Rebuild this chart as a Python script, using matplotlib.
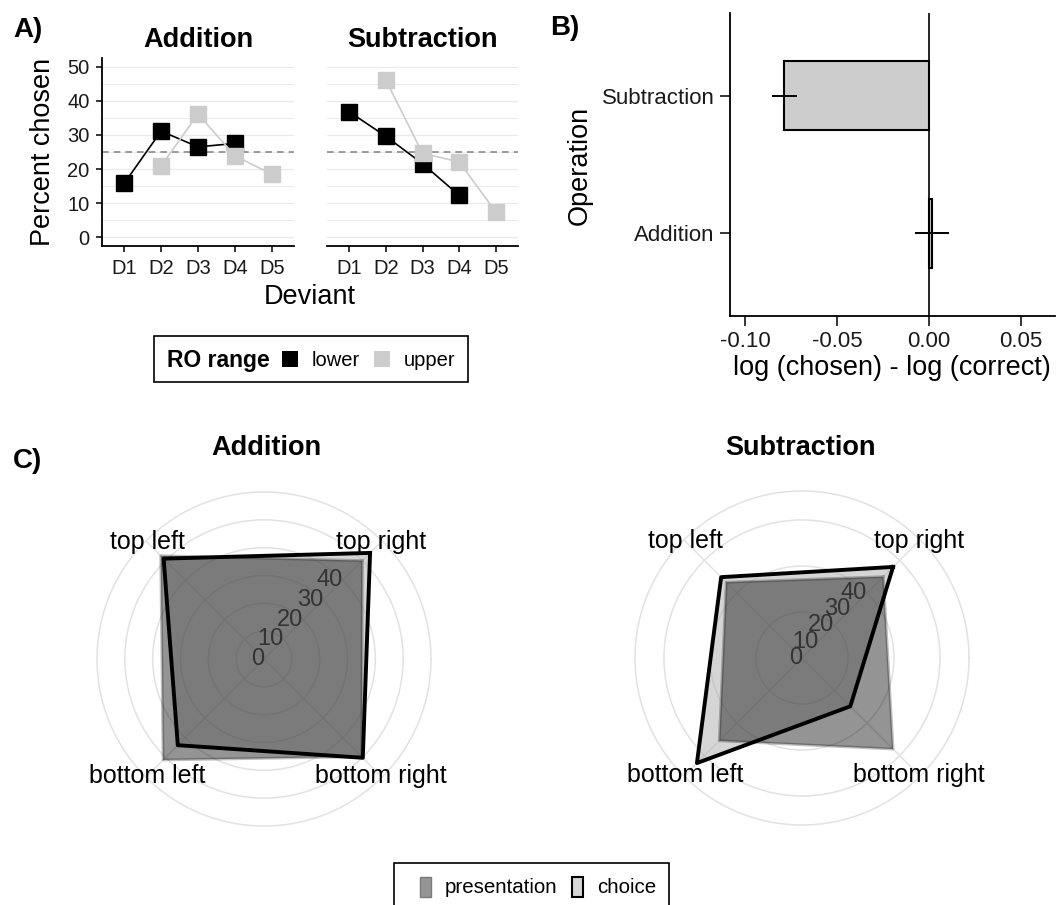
import numpy as np
import matplotlib
matplotlib.use("Agg")
from matplotlib import pyplot as plt
from matplotlib.patches import Rectangle

plt.rcParams['font.family'] = ['Liberation Sans', 'DejaVu Sans']

# ---- data ----
deviants = ['D1', 'D2', 'D3', 'D4', 'D5']
add_lower = [15.8, 31.1, 26.5, 27.5, np.nan]
add_upper = [np.nan, 20.9, 36.1, 23.9, 18.5]
sub_lower = [36.8, 29.6, 21.6, 12.3, np.nan]
sub_upper = [np.nan, 46.1, 24.6, 22.1, 7.4]
chance = 25

operations = ['Addition', 'Subtraction']
log_diff = [0.0018, -0.0786]
log_diff_err = [0.0093, 0.0070]

positions = ['top right', 'top left', 'bottom left', 'bottom right']
position_angles = [45, 135, 225, 315]
add_presentation = [50.0, 52.5, 51.3, 49.7]
add_choice = [53.9, 51.0, 43.8, 50.2]
sub_presentation = [50.0, 46.6, 50.9, 56.0]
sub_choice = [56.0, 49.7, 64.6, 29.7]
radial_labels = [0, 10, 20, 30, 40]

W, H = 1057, 905
fig = plt.figure(figsize=(W / 100, H / 100), dpi=100)


def px_axes(left, top, right, bottom, **kw):
    return fig.add_axes([left / W, 1 - bottom / H, (right - left) / W, (bottom - top) / H], **kw)


def px_text(x, y, s, **kw):
    return fig.text(x / W, 1 - y / H, s, **kw)


def px_rect(left, top, right, bottom, **kw):
    r = Rectangle((left / W, 1 - bottom / H), (right - left) / W, (bottom - top) / H,
                  transform=fig.transFigure, **kw)
    fig.patches.append(r)


LOWER = 'black'
UPPER = '#cccccc'
TXT = '#1a1a1a'

# ---- panel A ----
def line_panel(ax, lower, upper, title, left_axis):
    x = np.arange(len(deviants))
    for v in np.arange(0, 55, 5):
        ax.axhline(v, color='#ebebeb', lw=1.0 if v % 10 == 0 else 0.7, zorder=0)
    ax.axhline(chance, color='#8a8a8a', lw=1.2, ls=(0, (4, 3)), zorder=1)
    ax.plot(x, lower, color=LOWER, marker='s', ms=12, lw=1.2, zorder=3)
    ax.plot(x, upper, color=UPPER, marker='s', ms=12, lw=1.2, zorder=4)
    ax.set_xlim(-0.6, 4.6)
    ax.set_ylim(-2.5, 52.5)
    ax.set_xticks(x)
    ax.set_xticklabels(deviants, fontsize=14.5, color=TXT)
    for s in ['top', 'right']:
        ax.spines[s].set_visible(False)
    ax.spines['bottom'].set_linewidth(1.3)
    ax.tick_params(axis='x', length=4, width=1.1, pad=5)
    if left_axis:
        ax.spines['left'].set_linewidth(1.3)
        ax.set_yticks(range(0, 51, 10))
        ax.set_yticklabels([str(v) for v in range(0, 51, 10)], fontsize=14.5, color=TXT)
        ax.tick_params(axis='y', length=4, width=1.1, pad=5)
    else:
        ax.spines['left'].set_visible(False)
        ax.set_yticks([])
    ax.set_title(title, fontsize=19.5, fontweight='bold', pad=8)


axA1 = px_axes(102, 58, 294, 246)
axA2 = px_axes(327, 58, 518, 246)
line_panel(axA1, add_lower, add_upper, 'Addition', True)
line_panel(axA2, sub_lower, sub_upper, 'Subtraction', False)

px_text(43, 152, 'Percent chosen', fontsize=19.5, rotation=90, ha='center', va='center')
px_text(310, 297, 'Deviant', fontsize=19.5, ha='center', va='center')
px_text(13, 37, 'A)', fontsize=20, fontweight='bold', ha='left', va='baseline')

# legend A
px_rect(154, 336, 468, 382, facecolor='none', edgecolor='black', lw=1.2)
px_text(167, 360, 'RO range', fontsize=16.5, fontweight='bold', ha='left', va='center')
px_rect(282, 351, 298, 367, facecolor=LOWER, edgecolor='none')
px_text(312, 360, 'lower', fontsize=14.5, ha='left', va='center')
px_rect(374, 351, 390, 367, facecolor=UPPER, edgecolor='none')
px_text(404, 360, 'upper', fontsize=14.5, ha='left', va='center')

# ---- panel B ----
axB = px_axes(730, 13, 1055, 316)
yb = np.arange(len(operations))
axB.barh(yb, log_diff, height=0.5, color='#cccccc', edgecolor='black', lw=1.5, zorder=2)
axB.hlines(yb, np.array(log_diff) - np.array(log_diff_err),
           np.array(log_diff) + np.array(log_diff_err), color='black', lw=1.4, zorder=3)
axB.axvline(0, color='black', lw=1.2, zorder=1)
axB.set_xlim(-0.1082, 0.0685)
axB.set_ylim(-0.6, 1.6)
axB.set_yticks(yb)
axB.set_yticklabels(operations, fontsize=16, color=TXT)
bx = [-0.10, -0.05, 0.00, 0.05]
axB.set_xticks(bx)
axB.set_xticklabels(['-0.10', '-0.05', '0.00', '0.05'], fontsize=16, color=TXT)
for s in ['top', 'right']:
    axB.spines[s].set_visible(False)
axB.spines['left'].set_linewidth(1.3)
axB.spines['bottom'].set_linewidth(1.3)
axB.tick_params(length=7, width=1.1, pad=4)
px_text(892, 368, 'log (chosen) - log (correct)', fontsize=19.5, ha='center', va='center')
px_text(580, 165, 'Operation', fontsize=19.5, rotation=90, ha='center', va='center')
px_text(550, 35, 'B)', fontsize=20, fontweight='bold', ha='left', va='baseline')

# ---- panel C ----
def radar(ax, presentation, choice, rmax, rgrid):
    th = np.deg2rad(position_angles)
    th_c = np.append(th, th[0])
    ax.set_ylim(0, rmax)
    ax.set_yticks(rgrid)
    ax.set_yticklabels([])
    ax.set_xticks(th)
    ax.set_xticklabels([])
    ax.grid(True, color='#e2e2e2', lw=1.1)
    ax.spines['polar'].set_color('#e2e2e2')
    ax.spines['polar'].set_linewidth(1.1)
    ch = np.append(choice, choice[0])
    pr = np.append(presentation, presentation[0])
    ax.fill(th_c, ch, facecolor='#adadad', alpha=0.5, edgecolor='none', zorder=2)
    ax.fill(th_c, pr, facecolor='black', alpha=0.42, edgecolor='none', zorder=3)
    ax.plot(th_c, pr, color='black', alpha=0.25, lw=2.0, zorder=3)
    ax.plot(th_c, ch, color='black', lw=2.8, zorder=4)
    for v in radial_labels:
        ax.text(np.pi / 4, v, str(v), ha='right', va='center', fontsize=17,
                color='#333333', zorder=5)
    for name, ang in zip(positions, position_angles):
        ax.text(np.deg2rad(ang), rmax * 0.99, name, ha='center', va='center',
                fontsize=18, color='black', zorder=5)


axC1 = px_axes(97, 492, 431, 826, projection='polar')
axC2 = px_axes(635, 491, 969, 825, projection='polar')
radar(axC1, add_presentation, add_choice, 60, [10, 20, 30, 40, 50])
radar(axC2, sub_presentation, sub_choice, 72.6, [20, 40, 60])

px_text(266, 455, 'Addition', fontsize=19.5, fontweight='bold', ha='center', va='baseline')
px_text(800, 455, 'Subtraction', fontsize=19.5, fontweight='bold', ha='center', va='baseline')
px_text(13, 468, 'C)', fontsize=20, fontweight='bold', ha='left', va='baseline')

# legend C
px_rect(394, 863, 669, 920, facecolor='none', edgecolor='black', lw=1.2)
px_rect(420, 877, 431, 897, facecolor='#959595', edgecolor='#7a7a7a', lw=1.0)
px_text(445, 887, 'presentation', fontsize=14.8, ha='left', va='center')
px_rect(572, 877, 583, 897, facecolor='#d6d6d6', edgecolor='black', lw=1.5)
px_text(597, 887, 'choice', fontsize=14.8, ha='left', va='center')

fig.savefig('out.png', dpi=100)
